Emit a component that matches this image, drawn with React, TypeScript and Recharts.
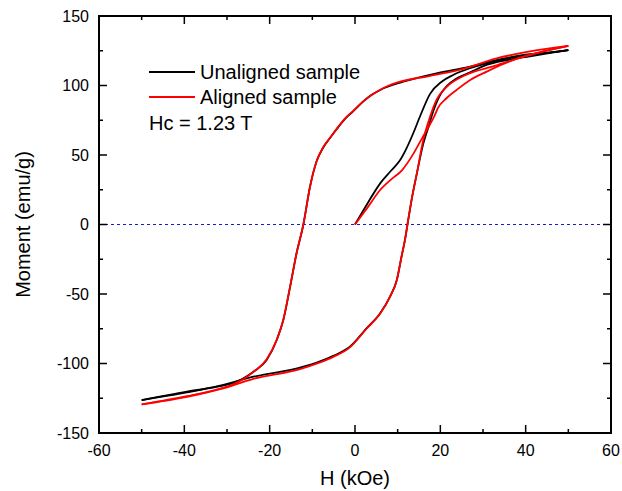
import React from 'react';
import { LineChart, Line, XAxis, YAxis, ReferenceLine, ReferenceArea } from 'recharts';

type Pt = { h: number; m: number };

// H (kOe) / moment (emu/g)
const unalignedInitial: Pt[] = [
  { h: 0, m: 0 }, { h: 3, m: 15.5 }, { h: 5.9, m: 29.6 }, { h: 8.6, m: 39.2 },
  { h: 10.5, m: 46 }, { h: 12.1, m: 55 }, { h: 13.7, m: 66 }, { h: 15.2, m: 77.5 },
  { h: 17.6, m: 94 }, { h: 20.3, m: 102.7 }, { h: 23, m: 107.6 }, { h: 26.95, m: 112.4 },
  { h: 30.9, m: 116 }, { h: 36, m: 119.5 }, { h: 41, m: 122 }, { h: 50, m: 125.5 }
];

const unalignedDescending: Pt[] = [
  { h: 50, m: 125.5 }, { h: 45, m: 123.5 }, { h: 41, m: 122.5 }, { h: 36, m: 120 },
  { h: 31.6, m: 117.1 }, { h: 27, m: 113.5 }, { h: 19.1, m: 108.8 }, { h: 11.3, m: 102.7 },
  { h: 5.9, m: 96.8 }, { h: 3.5, m: 92.5 }, { h: 1.9, m: 88.4 }, { h: -0.5, m: 81.2 },
  { h: -2, m: 77 }, { h: -4.3, m: 68.5 }, { h: -5.9, m: 62 }, { h: -7.5, m: 55 },
  { h: -9, m: 45.5 }, { h: -10.55, m: 27.2 }, { h: -12.1, m: 0 }, { h: -13.7, m: -20.7 },
  { h: -15.2, m: -44.7 }, { h: -16.8, m: -68.7 }, { h: -18.35, m: -83.1 }, { h: -20.7, m: -97.5 },
  { h: -23.8, m: -105.9 }, { h: -28.5, m: -114 }, { h: -31.6, m: -116.3 }, { h: -39.4, m: -120.3 },
  { h: -50, m: -126.3 }
];

const unalignedAscending: Pt[] = [
  { h: -50, m: -126.3 }, { h: -39.4, m: -120.8 }, { h: -31.6, m: -116 }, { h: -23.8, m: -109.5 },
  { h: -12.9, m: -103 }, { h: -8.2, m: -98.5 }, { h: -5.1, m: -94.5 }, { h: -1.2, m: -87.9 },
  { h: 2.7, m: -74.7 }, { h: 5.9, m: -63.9 }, { h: 8.2, m: -51.9 }, { h: 9.8, m: -39.9 },
  { h: 10.9, m: -23.2 }, { h: 11.7, m: -11.2 }, { h: 12.3, m: 0 }, { h: 13.4, m: 20 },
  { h: 14.5, m: 36.8 }, { h: 16, m: 58 }, { h: 17.2, m: 70 }, { h: 18.4, m: 82 },
  { h: 20.3, m: 95 }, { h: 21.5, m: 99.5 }, { h: 23.8, m: 105 }, { h: 27, m: 109.5 },
  { h: 30.1, m: 114 }, { h: 36, m: 118.5 }, { h: 41, m: 121 }, { h: 50, m: 125.5 }
];

const alignedInitial: Pt[] = [
  { h: 0, m: 0 }, { h: 3, m: 12.5 }, { h: 5.9, m: 24.8 }, { h: 8.5, m: 32.5 },
  { h: 11, m: 39 }, { h: 13.7, m: 51 }, { h: 15.7, m: 62 }, { h: 17.2, m: 70 },
  { h: 18.6, m: 78 }, { h: 19.4, m: 83.6 }, { h: 21.5, m: 91 }, { h: 23.8, m: 96.8 },
  { h: 27, m: 104 }, { h: 30.9, m: 110 }, { h: 34.8, m: 115.5 }, { h: 38.7, m: 120 },
  { h: 44, m: 124.5 }, { h: 50, m: 128.5 }
];

const alignedDescending: Pt[] = [
  { h: 50, m: 128.5 }, { h: 41, m: 124.5 }, { h: 33.2, m: 119.5 }, { h: 25.4, m: 112 },
  { h: 17.6, m: 107 }, { h: 9.8, m: 102 }, { h: 5.9, m: 97 }, { h: 1.9, m: 88.6 },
  { h: -0.5, m: 81.5 }, { h: -2, m: 77.4 }, { h: -4.3, m: 68.8 }, { h: -5.9, m: 62.2 },
  { h: -7.5, m: 55.5 }, { h: -9, m: 45.5 }, { h: -10.55, m: 27 }, { h: -12.1, m: 0 },
  { h: -13.7, m: -20.7 }, { h: -15.2, m: -44.5 }, { h: -16.8, m: -68.5 }, { h: -18.35, m: -83 },
  { h: -20.7, m: -97 }, { h: -23.8, m: -106 }, { h: -28.5, m: -115 }, { h: -31.6, m: -118 },
  { h: -39.4, m: -123.5 }, { h: -50, m: -129.4 }
];

const alignedAscending: Pt[] = [
  { h: -50, m: -129.4 }, { h: -39.4, m: -124 }, { h: -31.6, m: -118.5 }, { h: -23.8, m: -111 },
  { h: -12.9, m: -104 }, { h: -8.2, m: -99.2 }, { h: -5.1, m: -95.2 }, { h: -1.2, m: -88.4 },
  { h: 2.7, m: -75 }, { h: 5.9, m: -64 }, { h: 8.2, m: -52 }, { h: 9.8, m: -40 },
  { h: 10.9, m: -23.2 }, { h: 11.7, m: -11.2 }, { h: 12.3, m: 0 }, { h: 13.4, m: 20 },
  { h: 14.5, m: 36.8 }, { h: 16, m: 60.8 }, { h: 17.6, m: 77.6 }, { h: 19.1, m: 89.6 },
  { h: 21.5, m: 99 }, { h: 25.4, m: 106.8 }, { h: 33.2, m: 114.5 }, { h: 41, m: 122 },
  { h: 50, m: 128.5 }
];

const xTicks = [-60, -50, -40, -30, -20, -10, 0, 10, 20, 30, 40, 50, 60];
const yTicks = [-150, -125, -100, -75, -50, -25, 0, 25, 50, 75, 100, 125, 150];

const font = '"Liberation Sans", Arial, sans-serif';

const W = 622;
const H = 491;
const margin = { top: 16, right: 11, bottom: 28, left: 39 };
const Y_AXIS_W = 60;
const X_AXIS_H = 30;
const plotLeft = margin.left + Y_AXIS_W;
const plotRight = W - margin.right;
const plotTop = margin.top;
const plotBottom = H - margin.bottom - X_AXIS_H;

// bottom tick (label + inward mark) plus the matching inward mark on the top edge
const XTick = (props: any) => {
  const { x, y, payload } = props;
  const major = payload.value % 20 === 0;
  const len = major ? 8 : 4;
  return (
    <g>
      <path d={`M${x},${y}V${y - len}M${x},${plotTop}V${plotTop + len}`} stroke="#000" strokeWidth={1.5} fill="none" />
      {major && (
        <text x={x} y={y + 17} textAnchor="middle" dominantBaseline="central"
          fontSize={16} fontFamily={font} fill="#000">
          {payload.value}
        </text>
      )}
    </g>
  );
};

// left tick (label + inward mark) plus the matching inward mark on the right edge
const YTick = (props: any) => {
  const { x, y, payload } = props;
  const major = payload.value % 50 === 0;
  const len = major ? 8 : 4;
  return (
    <g>
      <path d={`M${x},${y}H${x + len}M${plotRight},${y}H${plotRight - len}`} stroke="#000" strokeWidth={1.5} fill="none" />
      {major && (
        <text x={x - 10} y={y} textAnchor="end" dominantBaseline="central"
          fontSize={16} fontFamily={font} fill="#000">
          {payload.value}
        </text>
      )}
    </g>
  );
};

const axisLine = { stroke: '#000', strokeWidth: 2 };

export default function App() {
  return (
    <div style={{ position: 'absolute', left: 0, top: 0, width: W, height: H, background: '#fff' }}>
      <LineChart width={W} height={H} margin={margin} style={{ overflow: 'visible' }}>
        <XAxis type="number" dataKey="h" domain={[-60, 60]} ticks={xTicks} interval={0}
          height={X_AXIS_H} tickSize={0} tickMargin={0} tickLine={false} axisLine={axisLine}
          tick={<XTick />} allowDataOverflow />
        <YAxis type="number" domain={[-150, 150]} ticks={yTicks} interval={0} width={Y_AXIS_W}
          tickSize={0} tickMargin={0} tickLine={false} axisLine={axisLine}
          tick={<YTick />} allowDataOverflow />
        <ReferenceArea x1={-60} x2={60} y1={-150} y2={150} fill="none" fillOpacity={0}
          stroke="#000" strokeWidth={2} ifOverflow="visible" />
        <ReferenceLine y={0} stroke="#1a1acc" strokeWidth={1} strokeDasharray="3 3" />
        {[unalignedInitial, unalignedDescending, unalignedAscending].map((d, i) => (
          <Line key={'u' + i} data={d} dataKey="m" type="monotone"
            stroke="#000" strokeWidth={1.8} dot={false} isAnimationActive={false} />
        ))}
        {[alignedInitial, alignedDescending, alignedAscending].map((d, i) => (
          <Line key={'a' + i} data={d} dataKey="m" type="monotone"
            stroke="#ff0000" strokeWidth={1.8} dot={false} isAnimationActive={false} />
        ))}
      </LineChart>
      <svg width={W} height={H} viewBox={`0 0 ${W} ${H}`}
        style={{ position: 'absolute', left: 0, top: 0, pointerEvents: 'none', zIndex: 5 }}>
        {/* plot frame */}
        <rect x={plotLeft} y={plotTop} width={plotRight - plotLeft} height={plotBottom - plotTop}
          fill="none" stroke="#000" strokeWidth={2} />
        <g fontFamily={font} fontSize={20} fill="#000">
          <line x1={149} x2={195} y1={72} y2={72} stroke="#000" strokeWidth={2} />
          <text x={200} y={72} dominantBaseline="central">Unaligned sample</text>
          <line x1={149} x2={195} y1={97} y2={97} stroke="#ff0000" strokeWidth={2} />
          <text x={200} y={97} dominantBaseline="central">Aligned sample</text>
          <text x={149} y={123} dominantBaseline="central">Hc = 1.23 T</text>
          <text x={355} y={478} textAnchor="middle" dominantBaseline="central">H (kOe)</text>
          <text x={23} y={224.5} textAnchor="middle" dominantBaseline="central"
            transform="rotate(-90 23 224.5)">Moment (emu/g)</text>
        </g>
      </svg>
    </div>
  );
}
